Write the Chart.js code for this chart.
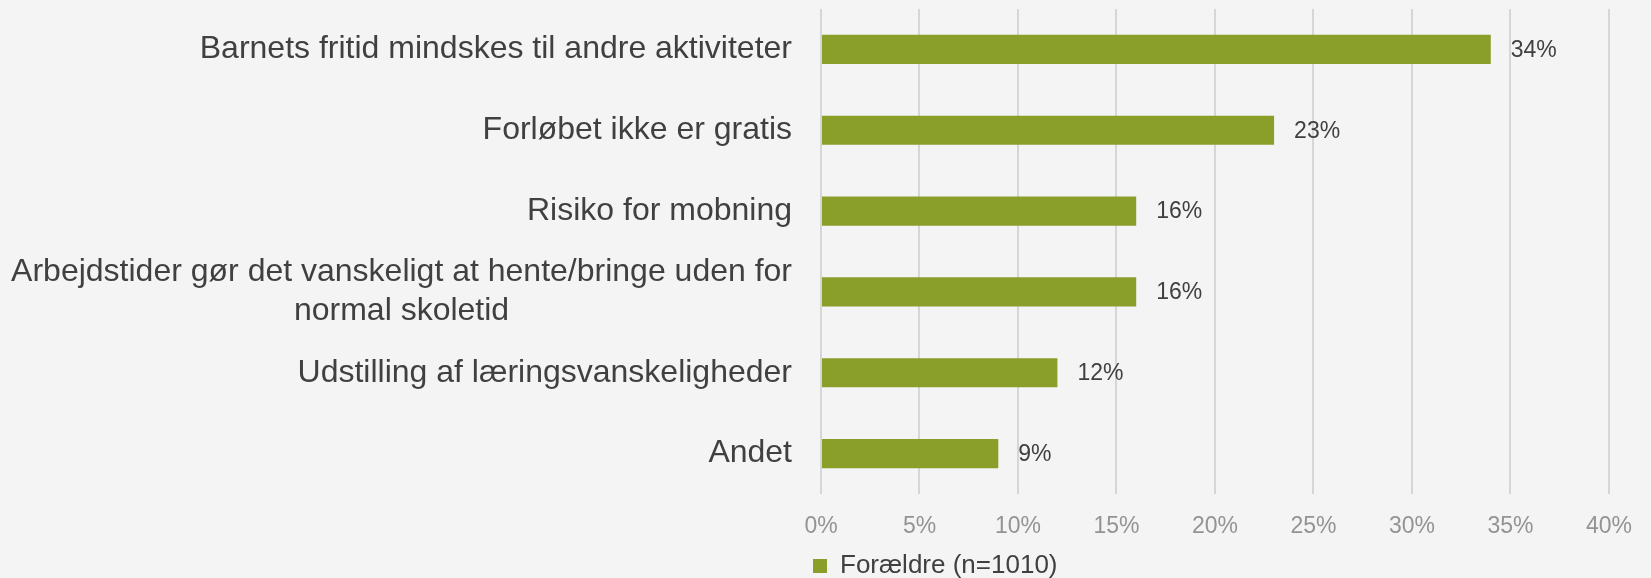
<!DOCTYPE html>
<html>
<head>
<meta charset="utf-8">
<script src="https://cdn.jsdelivr.net/npm/chart.js@4/dist/chart.umd.min.js"></script>
<style>
  html, body { margin: 0; padding: 0; background: #f4f4f4; }
  #wrap { width: 1651px; height: 578px; }
</style>
</head>
<body>
<div id="wrap"><canvas id="myChart"></canvas></div>
<script>
// categories (multi-line label as array)
var categories = [
  "Barnets fritid mindskes til andre aktiviteter",
  "Forløbet ikke er gratis",
  "Risiko for mobning",
  ["Arbejdstider gør det vanskeligt at hente/bringe uden for", "normal skoletid"],
  "Udstilling af læringsvanskeligheder",
  "Andet"
];
var parentValues = [34, 23, 16, 16, 12, 9];
var seriesName = "Forældre (n=1010)";
var tickMin = 0;
var tickMax = 40;
var tickStep = 5;

var fontFamily = "'Liberation Sans', Arial, sans-serif";
var barColor = "#8a9e2a";

// draws the category labels (right aligned block, lines centered) and the value labels
var labelPlugin = {
  id: 'labelPlugin',
  afterLayout: function(chart) {
    // nudge legend a bit left, like the original
    if (chart.legend) {
      chart.legend.left -= 8;
      chart.legend.right -= 8;
    }
  },
  afterDatasetsDraw: function(chart) {
    var ctx = chart.ctx;
    var yScale = chart.scales.y;
    var area = chart.chartArea;
    ctx.save();
    ctx.fillStyle = "#404040";
    ctx.textBaseline = "middle";

    // category labels
    ctx.font = "32px " + fontFamily;
    var right = area.left - 29;
    var lineH = 39;
    categories.forEach(function(cat, i) {
      var lines = Array.isArray(cat) ? cat : [cat];
      var y = yScale.getPixelForTick(i);
      var maxW = 0;
      lines.forEach(function(l) { maxW = Math.max(maxW, ctx.measureText(l).width); });
      ctx.textAlign = "center";
      lines.forEach(function(l, j) {
        var ly = y + (j - (lines.length - 1) / 2) * lineH;
        ctx.fillText(l, right - maxW / 2, ly);
      });
    });

    // value labels
    ctx.font = "23px " + fontFamily;
    ctx.textAlign = "left";
    var meta = chart.getDatasetMeta(0);
    meta.data.forEach(function(bar, i) {
      ctx.fillText(parentValues[i] + "%", bar.x + 20, bar.y + 1);
    });
    ctx.restore();
  }
};

var ctx1 = document.getElementById("myChart");
var myChart1 = new Chart(ctx1, {
  type: 'bar',
  data: {
    labels: categories,
    datasets: [
      {
        label: seriesName,
        data: parentValues,
        backgroundColor: barColor,
        borderWidth: 0,
        barPercentage: 0.36,
        categoryPercentage: 1
      }]
  },
  options: {
    indexAxis: 'y',
    responsive: true,
    maintainAspectRatio: false,
    animation: false,
    layout: {
      padding: { left: 0, top: 9, right: 35, bottom: -11 }
    },
    plugins: {
      tooltip: { enabled: false },
      legend: {
        position: 'bottom',
        align: 'start',
        fullSize: false,
        labels: {
          boxWidth: 14,
          boxHeight: 14,
          padding: 0,
          color: "#404040",
          font: { size: 26, family: fontFamily }
        }
      }
    },
    scales: {
      x: {
        min: tickMin,
        max: tickMax,
        ticks: {
          stepSize: tickStep,
          padding: 19,
          color: "#939393",
          font: { size: 23, family: fontFamily },
          callback: function(v) { return v + "%"; }
        },
        grid: {
          color: "#d4d7d7",
          lineWidth: 2,
          drawTicks: false
        },
        border: { display: false },
        afterFit: function(scale) { scale.height = 59; }
      },
      y: {
        ticks: { display: false },
        grid: { display: false },
        border: { display: false },
        afterFit: function(scale) { scale.width = 821; }
      }
    }
  },
  plugins: [labelPlugin]
});
</script>
</body>
</html>
